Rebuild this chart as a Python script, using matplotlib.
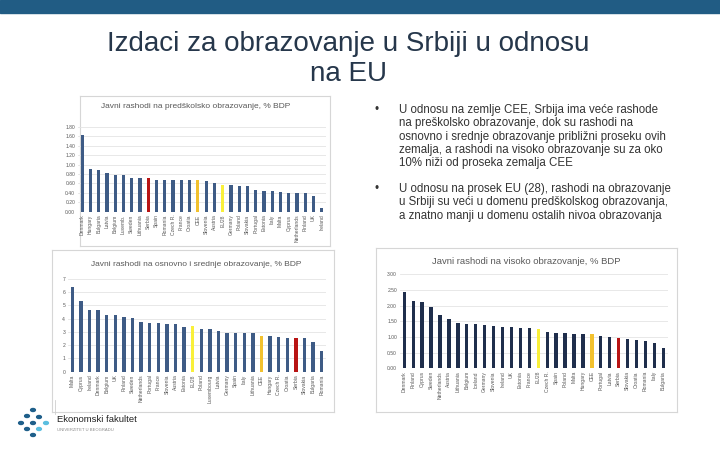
import numpy as np
from matplotlib import pyplot as plt
from matplotlib.patches import Rectangle, Circle

W, H = 720, 450

# --- data -------------------------------------------------------------
pre_countries = ['Denmark', 'Hungary', 'Bulgaria', 'Latvia', 'Belgium', 'Luxemb.',
                 'Sweden', 'Lithuania', 'Serbia', 'Spain', 'Romania', 'Czech R.',
                 'France', 'Croatia', 'CEE', 'Slovenia', 'Austria', 'EU28', 'Germany',
                 'Poland', 'Slovakia', 'Portugal', 'Estonia', 'Italy', 'Malta',
                 'Cyprus', 'Netherlands', 'Finland', 'UK', 'Ireland']
pre_values = [1.63, 0.91, 0.89, 0.82, 0.79, 0.77, 0.72, 0.72, 0.71, 0.68, 0.68, 0.67,
              0.67, 0.67, 0.67, 0.65, 0.60, 0.57, 0.57, 0.55, 0.55, 0.46, 0.44, 0.44,
              0.41, 0.40, 0.40, 0.40, 0.33, 0.08]

sec_countries = ['Malta', 'Cyprus', 'Ireland', 'Denmark', 'Belgium', 'UK', 'Finland',
                 'Sweden', 'Netherlands', 'Portugal', 'France', 'Slovenia', 'Austria',
                 'Estonia', 'EU28', 'Poland', 'Luxembourg', 'Latvia', 'Germany', 'Spain',
                 'Italy', 'Lithuania', 'CEE', 'Hungary', 'Czech R.', 'Croatia', 'Serbia',
                 'Slovakia', 'Bulgaria', 'Romania']
sec_values = [6.37, 5.33, 4.65, 4.65, 4.25, 4.25, 4.13, 4.08, 3.75, 3.70, 3.68, 3.63,
              3.58, 3.38, 3.43, 3.23, 3.20, 3.08, 2.95, 2.95, 2.95, 2.93, 2.72, 2.72,
              2.63, 2.55, 2.55, 2.55, 2.25, 1.55]

hi_countries = ['Denmark', 'Finland', 'Cyprus', 'Sweden', 'Netherlands', 'Austria',
                'Lithuania', 'Belgium', 'Iceland', 'Germany', 'Slovenia', 'Ireland', 'UK',
                'Estonia', 'France', 'EU28', 'Czech R.', 'Spain', 'Poland', 'Malta',
                'Hungary', 'CEE', 'Portugal', 'Latvia', 'Serbia', 'Slovakia', 'Croatia',
                'Romania', 'Italy', 'Bulgaria']
hi_values = [2.43, 2.16, 2.10, 1.96, 1.70, 1.56, 1.46, 1.41, 1.41, 1.39, 1.35, 1.32,
             1.31, 1.28, 1.28, 1.25, 1.15, 1.13, 1.13, 1.11, 1.09, 1.09, 1.04, 1.00,
             0.97, 0.94, 0.91, 0.86, 0.82, 0.64]

bullets = [
    "U odnosu na zemlje CEE, Srbija ima veće rashode\n"
    "na preškolsko obrazovanje, dok su rashodi na\n"
    "osnovno i srednje obrazovanje približni proseku ovih\n"
    "zemalja, a rashodi na visoko obrazovanje su za oko\n"
    "10% niži od proseka zemalja CEE",
    "U odnosu na prosek EU (28), rashodi na obrazovanje\n"
    "u Srbiji su veći u domenu predškolskog obrazovanja,\n"
    "a znatno manji u domenu ostalih nivoa obrazovanja",
]

plt.rcParams['font.family'] = ['Liberation Sans', 'DejaVu Sans']

fig = plt.figure(figsize=(7.2, 4.5), dpi=100)


def px_axes(left, top, width, height, **kw):
    return fig.add_axes([left / W, 1 - (top + height) / H, width / W, height / H], **kw)


def bar_colors(names, base, serbia, cee, eu):
    out = []
    for n in names:
        if n == 'Serbia':
            out.append(serbia)
        elif n == 'CEE':
            out.append(cee)
        elif n == 'EU28':
            out.append(eu)
        else:
            out.append(base)
    return out


def frame(left, top, width, height):
    ax = px_axes(left, top, width, height)
    ax.set_xticks([])
    ax.set_yticks([])
    for s in ax.spines.values():
        s.set_color('#d6d6d6')
        s.set_linewidth(0.8)
    return ax


def bar_chart(rect, names, values, ymax, step, fmt, base, title, title_y, title_x,
              title_size=6, width=0.38):
    ax = px_axes(*rect)
    x = np.arange(len(names))
    ax.bar(x, values, width=width,
           color=bar_colors(names, base, '#b81414', '#f2c12e', '#f9f03a'), zorder=3)
    ax.set_xlim(-0.5, len(names) - 0.5)
    ax.set_ylim(0, ymax)
    ax.set_yticks(np.arange(0, ymax + step / 2, step))
    ax.set_yticklabels([fmt.format(v) for v in np.arange(0, ymax + step / 2, step)])
    ax.set_xticks(x)
    ax.set_xticklabels(names, rotation=90)
    ax.tick_params(length=0, labelsize=3.6, colors='#595959', pad=2)
    ax.grid(axis='y', color='#e4e4e4', linewidth=0.6, zorder=0)
    for s in ax.spines.values():
        s.set_visible(False)
    ax.patch.set_alpha(0)
    fig.text(title_x / W, 1 - title_y / H, title, fontsize=title_size,
             color='#595959', ha='center', va='center')
    return ax


# top band
fig.add_artist(Rectangle((0, 1 - 13 / H), 1, 13 / H, transform=fig.transFigure,
                         color='#215c84', zorder=0))

# slide title
fig.text(348 / W, 1 - 44 / H, 'Izdaci za obrazovanje u Srbiji u odnosu',
         fontsize=20, color='#26374b', ha='center', va='center')
fig.text(348 / W, 1 - 74 / H, 'na EU', fontsize=20, color='#26374b',
         ha='center', va='center')

# chart frames
frame(80, 96, 250, 150)
frame(52, 250, 282, 162)
frame(376, 248, 301, 164)

bar_chart((78, 127, 248, 84.7), pre_countries, pre_values, 1.8, 0.2, '{:.2f}',
          '#3e5b85', 'Javni rashodi na predškolsko obrazovanje, % BDP', 107, 196)
bar_chart((68, 279, 258, 92.7), sec_countries, sec_values, 7, 1, '{:.0f}',
          '#3e5b85', 'Javni rashodi na osnovno i srednje obrazovanje, % BDP', 265, 196)
bar_chart((399.8, 274.3, 268, 94), hi_countries, hi_values, 3, 0.5, '{:.2f}',
          '#1f2e4c', 'Javni rashodi na visoko obrazovanje, % BDP', 261, 526,
          title_size=6.8)

# bullet text
for y, txt in zip([104, 183], bullets):
    fig.text(374 / W, 1 - y / H, '•', fontsize=8.3, color='#333333', va='top')
    fig.text(399 / W, 1 - y / H, txt, fontsize=8.3, color='#333333', va='top',
             linespacing=1.15)

# logo
dots = [(33, 410, '#1e5f8a'), (27, 416, '#1e5f8a'), (21, 423, '#1e5f8a'),
        (33, 423, '#1e5f8a'), (39, 417, '#1e5f8a'), (46, 423, '#5bbfe0'),
        (27, 429, '#1e5f8a'), (39, 429, '#5bbfe0'), (33, 435, '#1e5f8a')]
for cx, cy, c in dots:
    fig.add_artist(Circle((cx / W, 1 - cy / H), 2.4 / W, transform=fig.transFigure,
                          color=c))
fig.add_artist(plt.Line2D([55 / W, 55 / W], [1 - 400 / H, 1 - 414 / H],
                          transform=fig.transFigure, color='#cfcfcf', linewidth=0.6))
fig.text(57 / W, 1 - 419 / H, 'Ekonomski fakultet', fontsize=6.8, color='#222222',
         va='center')
fig.text(57 / W, 1 - 430 / H, 'UNIVERZITET U BEOGRADU', fontsize=3, color='#888888',
         va='center')

fig.savefig('out.png', dpi=100)
